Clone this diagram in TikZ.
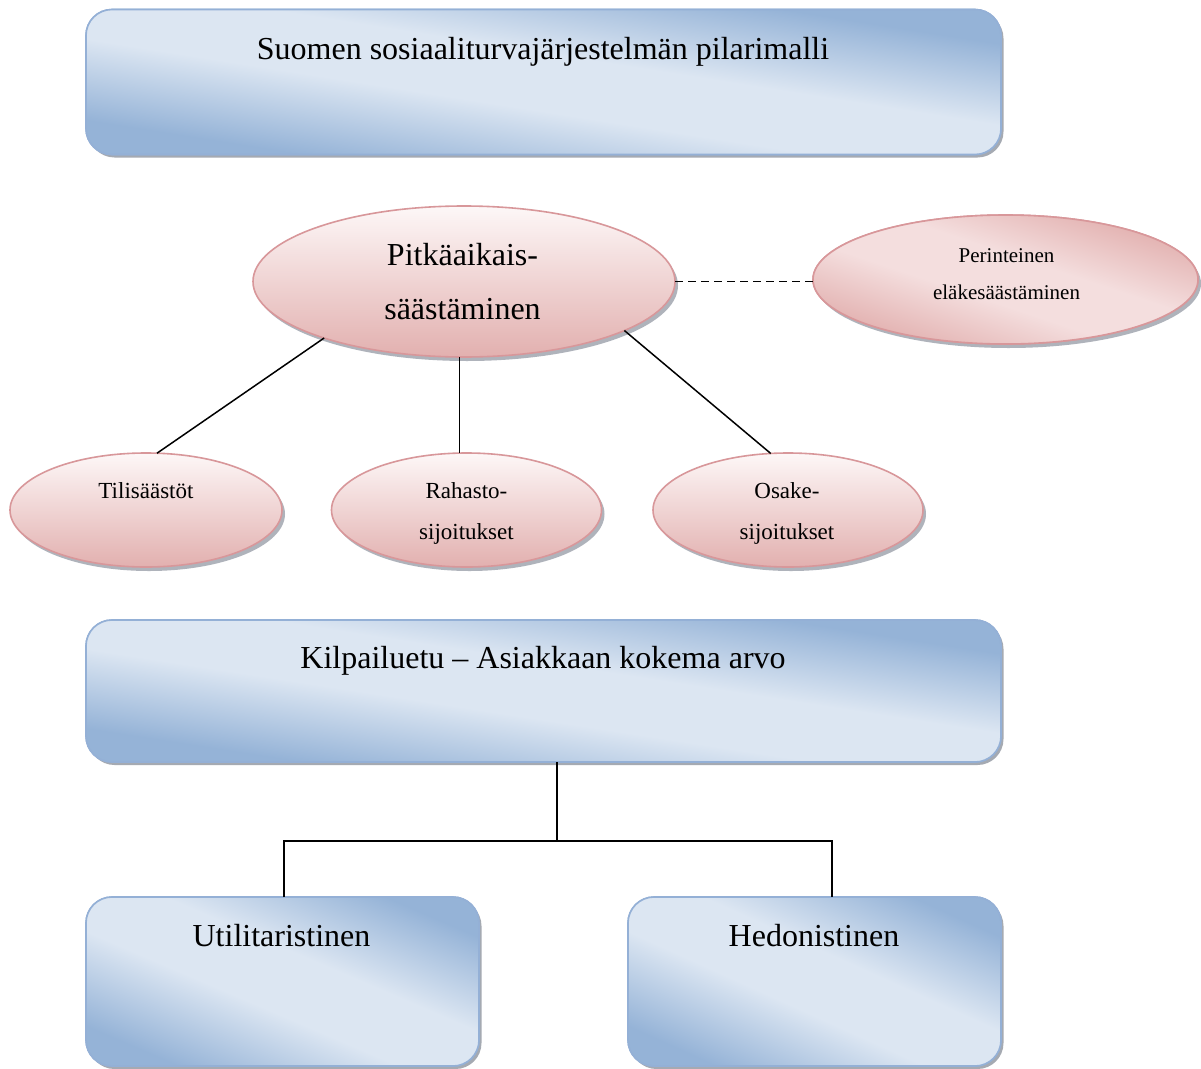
\documentclass[tikz,border=0pt]{standalone}
\usepackage{fontspec}
\setmainfont{Liberation Serif}
\usetikzlibrary{shapes.geometric,shadows,calc}

\definecolor{bdark}{HTML}{95B3D7}
\definecolor{blight}{HTML}{DCE6F2}
\definecolor{bline}{HTML}{94B0D6}
\definecolor{pdark}{HTML}{E2B0AF}
\definecolor{plight}{HTML}{FDF7F7}
\definecolor{pmid}{HTML}{F4DEDE}
\definecolor{pline}{HTML}{D8979A}
\definecolor{shadecol}{HTML}{9CA1AA}

% blue: dark at two opposite corners, pale along the other diagonal
\pgfdeclareverticalshading{bluediag}{100bp}{color(0bp)=(bdark); color(31bp)=(bdark); color(45bp)=(blight); color(55bp)=(blight); color(69bp)=(bdark); color(100bp)=(bdark)}
% pale top, rose bottom for the ellipses
\pgfdeclareverticalshading{pinkdown}{100bp}{color(0bp)=(pdark); color(25bp)=(pdark); color(75bp)=(plight); color(100bp)=(plight)}
% rose: dark at two opposite corners, pale along the other diagonal
\pgfdeclareverticalshading{pinkdiag}{100bp}{color(0bp)=(pdark); color(31bp)=(pdark); color(45bp)=(pmid); color(55bp)=(pmid); color(69bp)=(pdark); color(100bp)=(pdark)}

\tikzset{
  bluebox/.style 2 args={rectangle, draw=bline, line width=1.6pt, rounded corners=26pt,
    inner sep=0pt, outer sep=0pt, fill=blight, minimum width=#1pt, minimum height=#2pt,
    drop shadow={shadow xshift=2.5pt, shadow yshift=-3pt, fill=shadecol, opacity=0.9}},
  boxline/.style={draw=bline, line width=1.6pt, rounded corners=26pt},
  pinkell/.style={ellipse, draw=pline, line width=1.6pt, inner sep=0pt, outer sep=0pt,
    shading=pinkdown,
    drop shadow={shadow xshift=3pt, shadow yshift=-4pt, fill=shadecol, opacity=0.8}},
  ellline/.style={draw=pline, line width=1.6pt},
  bigtext/.style={anchor=base, inner sep=0pt, font=\fontsize{32}{32}\selectfont},
  midtext/.style={anchor=base, inner sep=0pt, font=\fontsize{23}{23}\selectfont},
  smalltext/.style={anchor=base, inner sep=0pt, font=\fontsize{21}{21}\selectfont},
  link/.style={draw=black, line width=1.5pt},
}

% diagonal gradient stretched over a w x h area centred on a node
% #1 node, #2 shading, #3 width, #4 height
\newcommand\diagshade[4]{%
  \begin{scope}[transform canvas={shift={(#1.center)}, xscale=#3/200, yscale=#4/200, rotate=-45}]
    \shade[shading=#2] (-142,-142) rectangle (142,142);
  \end{scope}}

% rounded box: clip, stretched diagonal gradient, border on top
\newcommand\shadedbox[3]{%
  \begin{scope}
    \clip[rounded corners=26pt] (#1.south west) rectangle (#1.north east);
    \diagshade{#1}{bluediag}{#2}{#3}
  \end{scope}
  \draw[boxline] (#1.south west) rectangle (#1.north east);}

\begin{document}
\begin{tikzpicture}[x=1pt, y=-1pt]
\useasboundingbox (0,0) rectangle (1201,1068);
\fill[white] (0,0) rectangle (1201,1068);

% rounded boxes
\node[bluebox={915}{145}] (title) at (543.5,82) {};
\node[bluebox={915}{142}] (kilp) at (543.5,691) {};
\node[bluebox={393}{169}] (util) at (282.5,981.5) {};
\node[bluebox={373}{169}] (hedon) at (814.5,981.5) {};
\shadedbox{title}{915}{145}
\shadedbox{kilp}{915}{142}
\shadedbox{util}{393}{169}
\shadedbox{hedon}{373}{169}

% ellipses
\node[pinkell, minimum width=422pt, minimum height=151pt] (main) at (464,281.5) {};
\node[pinkell, fill=pmid, minimum width=385pt, minimum height=129pt] (perin) at (1005.5,279.5) {};
\begin{scope}
  \clip (perin.center) ellipse [x radius=192.5, y radius=64.5];
  \diagshade{perin}{pinkdiag}{385}{129}
\end{scope}
\draw[ellline] (perin.center) ellipse [x radius=192.5, y radius=64.5];
\node[pinkell, minimum width=272pt, minimum height=114pt] (tili) at (146,510) {};
\node[pinkell, minimum width=270pt, minimum height=114pt] (raha) at (466.5,510) {};
\node[pinkell, minimum width=270pt, minimum height=114pt] (osake) at (788,510) {};

% texts
\node[bigtext] (titletxt) at (543,59) {Suomen sosiaaliturvajärjestelmän pilarimalli};
\node[bigtext] (maintxta) at (462.5,265) {Pitkäaikais-};
\node[bigtext] (maintxtb) at (462.5,319) {säästäminen};
\node[smalltext] (perintxta) at (1006.5,262) {Perinteinen};
\node[smalltext] (perintxtb) at (1006.5,299) {eläkesäästäminen};
\node[midtext] (tilitxt) at (146,498) {Tilisäästöt};
\node[midtext] (rahatxta) at (466.5,498) {Rahasto-};
\node[midtext] (rahatxtb) at (466.5,539) {sijoitukset};
\node[midtext] (osaketxta) at (787,498) {Osake-};
\node[midtext] (osaketxtb) at (787,539) {sijoitukset};
\node[bigtext] (kilptxt) at (543,668) {Kilpailuetu – Asiakkaan kokema arvo};
\node[bigtext] (utiltxt) at (281.5,946) {Utilitaristinen};
\node[bigtext] (hedontxt) at (814,946) {Hedonistinen};

% connectors of the ellipse tree
\draw[link] (main.202.4) -- (tili.79);
\draw[link] (main.south -| raha.north) ++(-7,0) -- ($(raha.north)+(-7,0)$);
\draw[link] (main.343.5) -- (osake.107);
\draw[link, dash pattern=on 8pt off 5pt] (main.east) -- (main.east -| perin.west);

% connectors of the box tree
\coordinate (fork) at (557,841);
\draw[link] (kilp.south -| fork) -- (fork);
\draw[link] ($(util.north)+(1.5,0)$) |- (fork) -| ($(hedon.north)+(17.5,0)$);
\end{tikzpicture}
\end{document}
